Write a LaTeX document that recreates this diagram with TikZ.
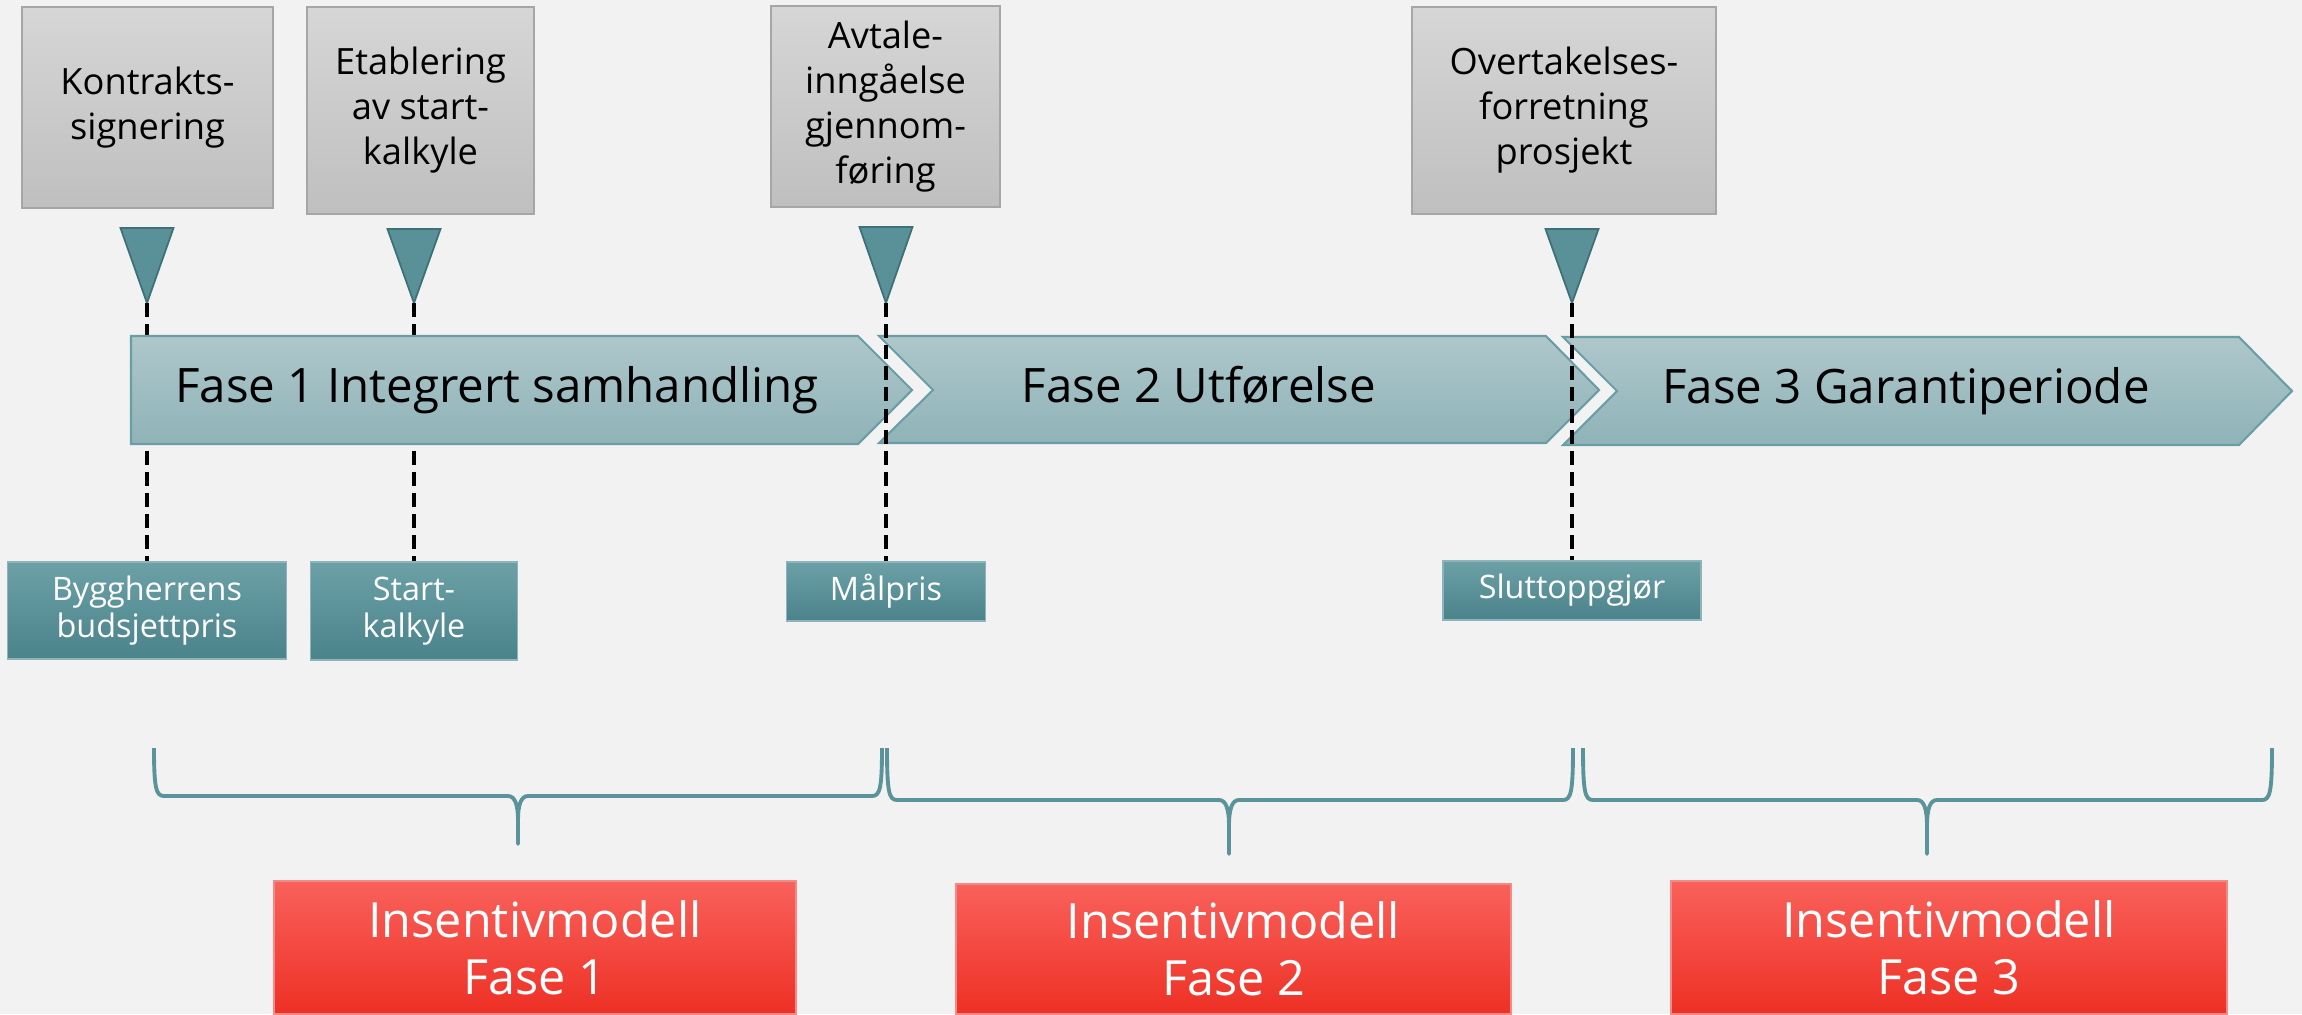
\documentclass[tikz,border=0pt]{standalone}
\usepackage{fontspec}
\setmainfont{Open Sans}
\usetikzlibrary{positioning}
\definecolor{bgcol}{HTML}{F2F2F2}
\definecolor{graytop}{HTML}{D6D6D6}
\definecolor{graybot}{HTML}{BFBFBF}
\definecolor{grayedge}{HTML}{A6A6A6}
\definecolor{tealtop}{HTML}{6BA0A6}
\definecolor{tealbot}{HTML}{4B838B}
\definecolor{tealedge}{HTML}{8DB4B9}
\definecolor{redtop}{HTML}{F9615B}
\definecolor{redbot}{HTML}{EE3025}
\definecolor{rededge}{HTML}{F28A85}
\definecolor{chevtop}{HTML}{AEC7CB}
\definecolor{chevbot}{HTML}{8FB3B8}
\definecolor{chevedge}{HTML}{6A9EA5}
\definecolor{markfill}{HTML}{5A9199}
\definecolor{markedge}{HTML}{3D7077}
\definecolor{bracecol}{HTML}{5B939B}
\tikzset{
    milestone/.style = {rectangle, draw=grayedge, top color=graytop, bottom color=graybot, align=center, inner sep=0pt, font=\fontsize{10.3}{12.8}\selectfont, text=black},
    pricebox/.style = {rectangle, draw=tealedge, top color=tealtop, bottom color=tealbot, align=center, inner sep=0pt, font=\fontsize{9.2}{10.6}\selectfont, text=white},
    modelbox/.style = {rectangle, draw=rededge, top color=redtop, bottom color=redbot, align=center, inner sep=0pt, font=\fontsize{13.8}{16.2}\selectfont, text=white},
    phase/.style = {draw=chevedge, top color=chevtop, bottom color=chevbot, line width=0.6pt},
    phaselabel/.style = {anchor=base, inner sep=0pt, font=\fontsize{13.5}{16}\selectfont, text=black},
    marker/.style = {draw=markedge, fill=markfill, line width=0.5pt},
    guide/.style = {-, line width=1.1pt, black, dash pattern=on 4pt off 2pt},
    bracket/.style = {-, line width=1.1pt, bracecol, line join=round},
}

\begin{document}
\begin{tikzpicture}[x=0.01cm, y=-0.01cm]
%
\fill[bgcol] (0,0) rectangle (2302,1014);
\useasboundingbox (0,0) rectangle (2302,1014);
%
\node[milestone, minimum width=2.51cm, minimum height=2.01cm] at (147.5,107.5) (m1) {Kontrakts-\\signering};
\node[milestone, minimum width=2.27cm, minimum height=2.07cm] at (420.5,110.5) (m2) {Etablering\\av start-\\kalkyle};
\node[milestone, minimum width=2.29cm, minimum height=2.01cm] at (885.5,106.5) (m3) {Avtale-\\inngåelse\\gjennom-\\føring};
\node[milestone, minimum width=3.04cm, minimum height=2.07cm] at (1564,110.5) (m4) {Overtakelses-\\forretning\\prosjekt};
%
\coordinate (t1) at (147,303);
\coordinate (t2) at (414,303);
\coordinate (t3) at (886,303);
\coordinate (t4) at (1572,303);
\draw[marker] (t1) -- ++(-26.5,-75) -- ++(53,0) -- cycle;
\draw[marker] (t2) -- ++(-26.5,-74) -- ++(53,0) -- cycle;
\draw[marker] (t3) -- ++(-26.5,-76) -- ++(53,0) -- cycle;
\draw[marker] (t4) -- ++(-26.5,-74) -- ++(53,0) -- cycle;
%
\node[pricebox, minimum width=2.79cm, minimum height=0.97cm] at (147,610.5) (p1) {Byggherrens\\budsjettpris};
\node[pricebox, minimum width=2.07cm, minimum height=0.98cm] at (414,611) (p2) {Start-\\kalkyle};
\node[pricebox, minimum width=1.99cm, minimum height=0.59cm] at (886,591.5) (p3) {Målpris};
\node[pricebox, minimum width=2.58cm, minimum height=0.59cm] at (1572,590.5) (p4) {Sluttoppgjør};
%
\draw[guide] (t1) -- (p1.north);
\draw[guide] (t2) -- (p2.north);
%
\draw[phase] (131,336) -- (858,336) -- (912,390) -- (858,444) -- (131,444) -- cycle;
\draw[phase] (879,336) -- (1546,336) -- (1599,390) -- (1546,443) -- (879,443) -- (933,390) -- cycle;
\draw[phase] (1563,337) -- (2239,337) -- (2292,391) -- (2239,445) -- (1563,445) -- (1617,391) -- cycle;
\node[phaselabel] at (497,402) (f1) {Fase 1 Integrert samhandling};
\node[phaselabel] at (1199,402) (f2) {Fase 2 Utførelse};
\node[phaselabel] at (1906,403) (f3) {Fase 3 Garantiperiode};
%
\draw[guide] (t3) -- (p3.north);
\draw[guide] (t4) -- (p4.north);
%
\draw[bracket] (154,748) .. controls (154,788) and (156,796) .. (164,796) -- (508,796) .. controls (515,796) and (518,805) .. (518,820) -- (518,844)
    -- (518,820) .. controls (518,805) and (521,796) .. (528,796) -- (872,796) .. controls (880,796) and (882,788) .. (882,748);
\draw[bracket] (887,748) .. controls (887,792) and (889,800) .. (897,800) -- (1219,800) .. controls (1226,800) and (1229,809) .. (1229,826) -- (1229,854)
    -- (1229,826) .. controls (1229,809) and (1232,800) .. (1239,800) -- (1563,800) .. controls (1571,800) and (1573,792) .. (1573,748);
\draw[bracket] (1583,748) .. controls (1583,792) and (1585,800) .. (1593,800) -- (1917,800) .. controls (1924,800) and (1927,809) .. (1927,826) -- (1927,854)
    -- (1927,826) .. controls (1927,809) and (1930,800) .. (1937,800) -- (2262,800) .. controls (2270,800) and (2272,792) .. (2272,748);
%
\node[modelbox, minimum width=5.22cm, minimum height=1.33cm] at (535,947.5) (r1) {Insentivmodell\\Fase 1};
\node[modelbox, minimum width=5.55cm, minimum height=1.30cm] at (1233.5,949) (r2) {Insentivmodell\\Fase 2};
\node[modelbox, minimum width=5.56cm, minimum height=1.33cm] at (1949,947.5) (r3) {Insentivmodell\\Fase 3};
%
\end{tikzpicture}
\end{document}
